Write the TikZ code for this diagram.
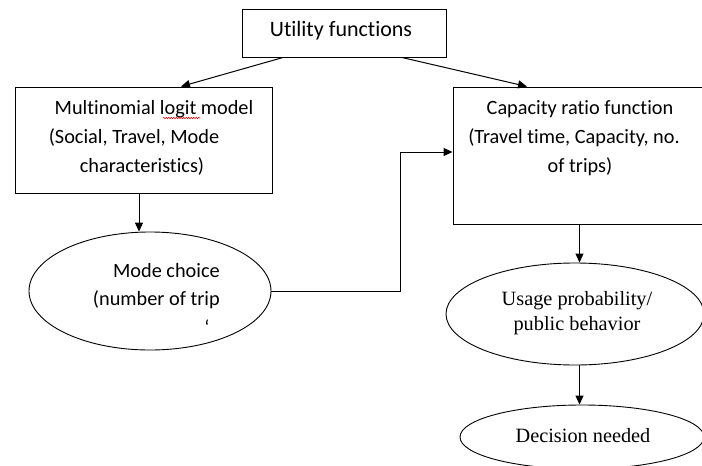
\documentclass[tikz,border=0pt]{standalone}
\usepackage{fontspec}
\setmainfont{Carlito}[Ligatures={NoCommon}]
\newfontfamily\timesfont{Liberation Serif}
\usetikzlibrary{arrows.meta,shapes.geometric,decorations.pathmorphing}
\begin{document}
\begin{tikzpicture}[x=1pt,y=-1pt,
  box/.style={draw, line width=1pt, rectangle, inner sep=0pt},
  oval/.style={draw, line width=0.9pt, ellipse, inner sep=0pt},
  lbl/.style={font=\fontsize{20.3}{29}\selectfont, inner sep=0pt, anchor=base},
  tlbl/.style={font=\timesfont\fontsize{20.3}{27}\selectfont, inner sep=0pt, anchor=base},
  arr/.style={line width=1pt, -{Triangle[length=9pt,width=8pt]}}
]
\useasboundingbox (0,0) rectangle (702,466);
\clip (0,0) rectangle (702,466);

% shapes
\node[box, minimum width=204pt, minimum height=48pt] (util) at (344,33) {};
\node[box, minimum width=257pt, minimum height=106pt] (mult) at (143.5,140) {};
\node[box, minimum width=253pt, minimum height=137pt] (cap) at (579.5,155.5) {};
\node[oval, minimum width=242pt, minimum height=118pt] (mode) at (150,291) {};
\node[oval, minimum width=258pt, minimum height=102pt] (usage) at (575,314) {};
\node[oval, minimum width=244pt, minimum height=64pt] (dec) at (582,437) {};

% texts
\node[lbl, font=\fontsize{22}{29}\selectfont] (tu) at (341,36) {Utility functions};
\node[lbl] (m1) at (154,114) {Multinomial logit model};
\node[lbl] (m2) at (134,143) {(Social, Travel, Mode};
\node[lbl] (m3) at (142,172) {characteristics)};
\node[lbl] (c1) at (580,114) {Capacity ratio function};
\node[lbl] (c2) at (574,143) {(Travel time, Capacity, no.};
\node[lbl] (c3) at (580,172) {of trips)};
\node[lbl, anchor=base east] (mo1) at (220,277) {Mode choice};
\node[lbl, anchor=base east] (mo2) at (220,305) {(number of trip};
\node[lbl] (mo3) at (207,334) {\symbol{96}};
\node[tlbl] (u1) at (577,305) {Usage probability/};
\node[tlbl] (u2) at (577,330) {public behavior};
\node[tlbl] (d1) at (583,442) {Decision needed};

% spell-check underline
\coordinate (sq1) at (163,118);
\coordinate (sq2) at (200,118);
\draw[red, line width=0.5pt, decorate, decoration={snake, amplitude=0.8pt, segment length=2.5pt}] (sq1) -- (sq2);

% connectors
\draw[arr] ([xshift=-61pt]util.south) -- ([xshift=37.5pt]mult.north);
\draw[arr] ([xshift=58pt]util.south) -- ([xshift=-52.5pt]cap.north);
\draw[arr] ([xshift=-4.5pt]mult.south) -- ([xshift=-11pt]mode.north);
\coordinate (bend) at (400,152);
\draw[line width=1pt] (mode.east) -| (bend);
\draw[arr] (bend) -- (bend -| cap.west);
\draw[arr] (cap.south) -- (cap.south |- usage.north);
\draw[arr] (cap.south |- usage.south) -- (cap.south |- dec.north);
\end{tikzpicture}
\end{document}
